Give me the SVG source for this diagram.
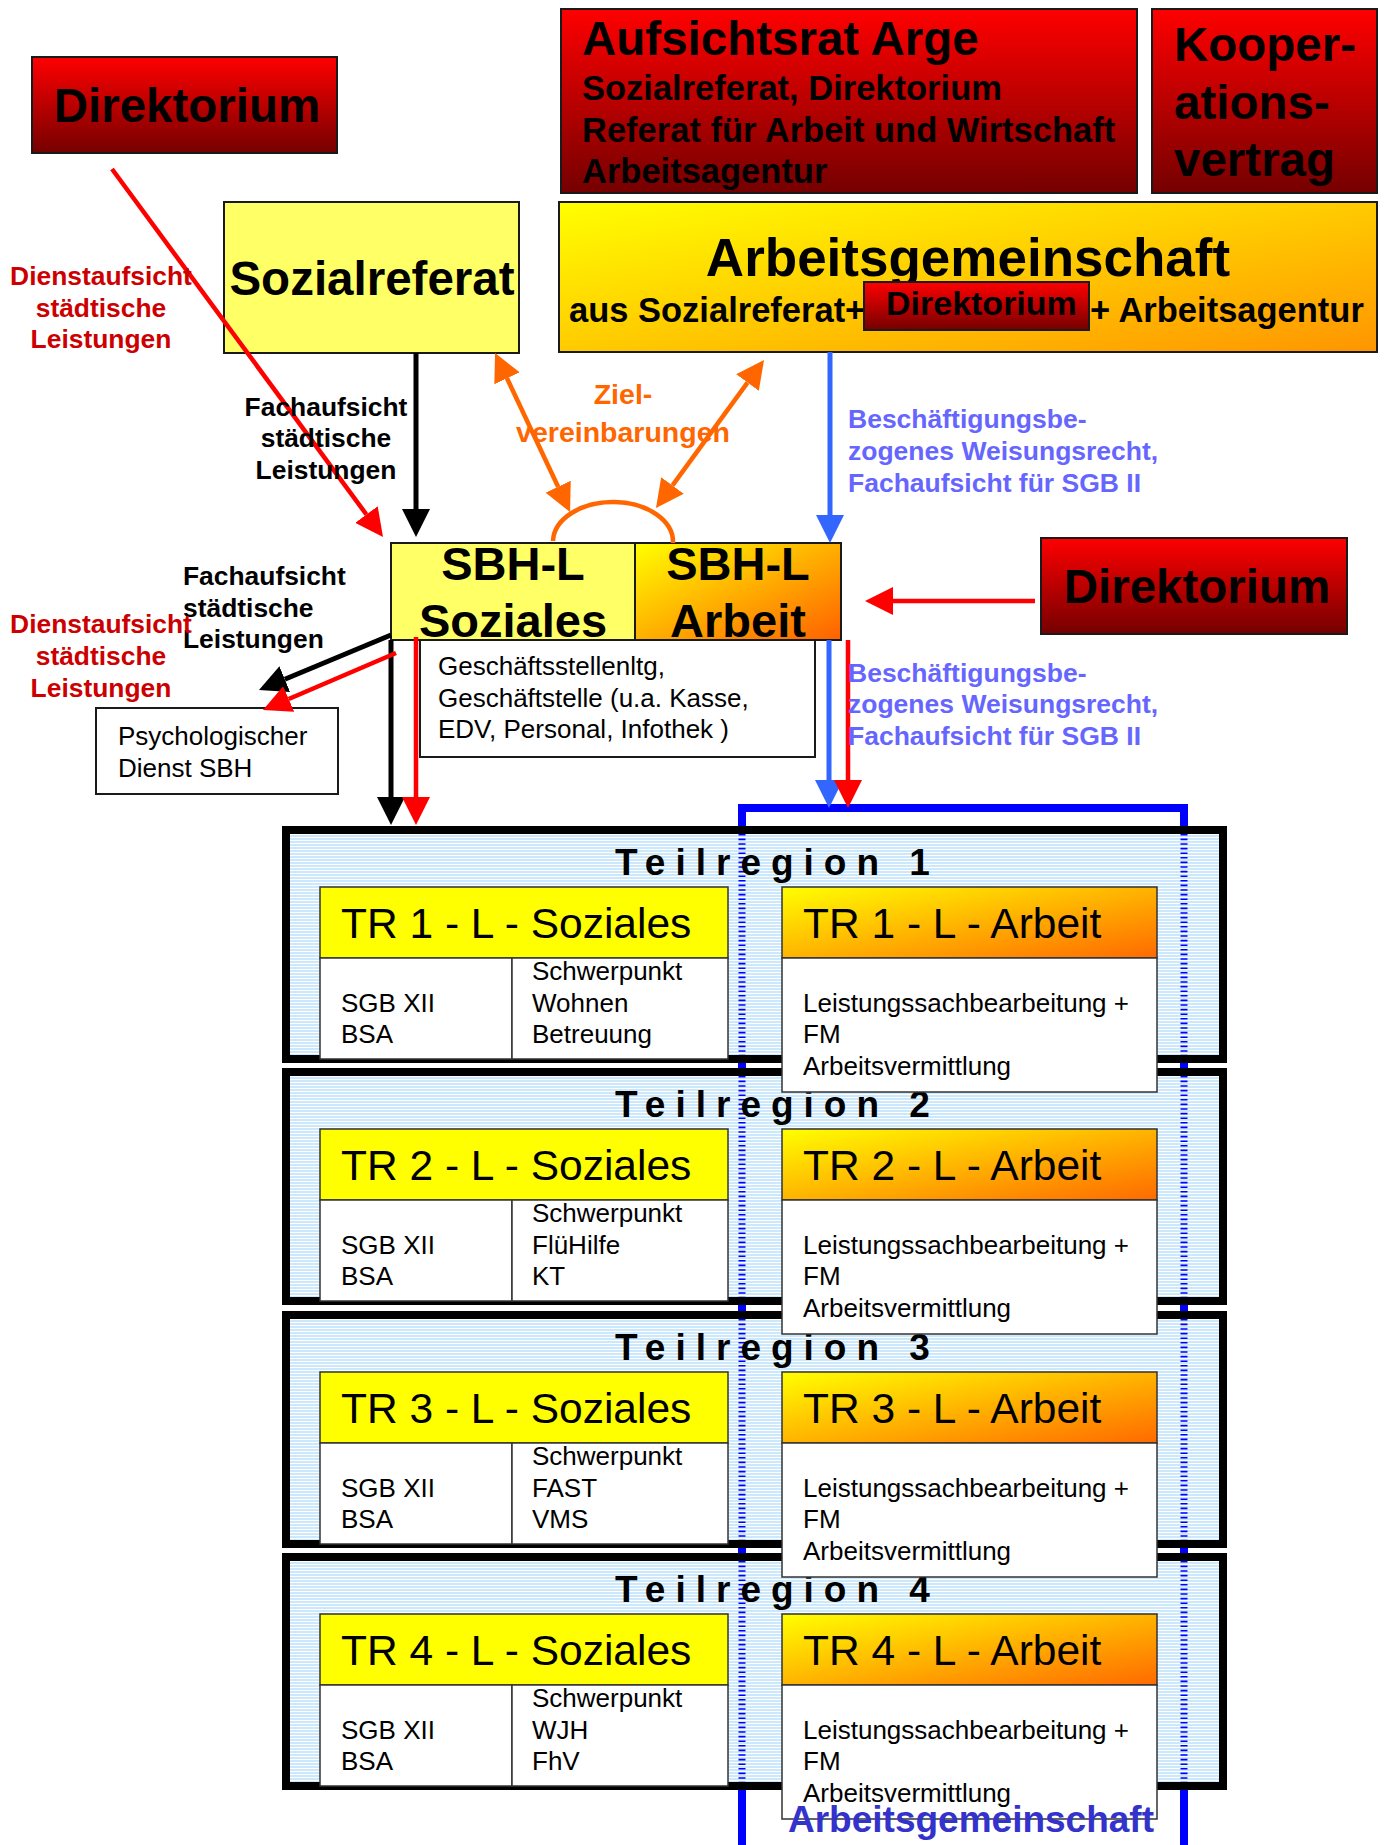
<svg xmlns="http://www.w3.org/2000/svg" width="1385" height="1845" viewBox="0 0 1385 1845">
<style>
.b{font-family:'Liberation Sans',Arial,sans-serif;font-weight:bold}
.r{font-family:'Liberation Sans',Arial,sans-serif}
.bx{stroke:#1a1a1a;stroke-width:2}
.thin{stroke:#333;stroke-width:1.5}
.tr{fill:url(#stripes);stroke:#000;stroke-width:8}
.dash{stroke:#0000ff;stroke-width:7;stroke-dasharray:1.6 3}
.trh{font-size:42.5px}
.trt{font-size:26px}
.ttl{font-size:37px;letter-spacing:10px}
.lbl{font-size:26.4px}
.blu{font-size:26.5px;fill:#6666ff}
</style>
<defs>
<linearGradient id="red" x1="0" y1="0" x2="0" y2="1"><stop offset="0" stop-color="#ff0000"/><stop offset="1" stop-color="#750000"/></linearGradient>
<linearGradient id="arge" x1="0" y1="0" x2="1" y2="1"><stop offset="0" stop-color="#ffff00"/><stop offset="0.45" stop-color="#ffd000"/><stop offset="1" stop-color="#ff9500"/></linearGradient>
<linearGradient id="sbhArb" x1="0" y1="0" x2="1" y2="1"><stop offset="0" stop-color="#ffff00"/><stop offset="0.5" stop-color="#ffb000"/><stop offset="1" stop-color="#ff6000"/></linearGradient>
<linearGradient id="trArb" x1="0" y1="0" x2="1" y2="1"><stop offset="0" stop-color="#ffff00"/><stop offset="0.5" stop-color="#ffb400"/><stop offset="1" stop-color="#ff6a00"/></linearGradient>
<pattern id="stripes" patternUnits="userSpaceOnUse" width="10" height="3"><rect width="10" height="3" fill="#cbe8fc"/><rect width="10" height="1" fill="#ffffff"/></pattern>
<marker id="mBlack" markerUnits="userSpaceOnUse" markerWidth="28" markerHeight="28" viewBox="0 0 28 28" refX="0" refY="14" orient="auto-start-reverse"><path d="M0,0 L28,14 L0,28 z" fill="#000"/></marker>
<marker id="mRed" markerUnits="userSpaceOnUse" markerWidth="28" markerHeight="28" viewBox="0 0 28 28" refX="0" refY="14" orient="auto-start-reverse"><path d="M0,0 L28,14 L0,28 z" fill="#ff0000"/></marker>
<marker id="mBlue" markerUnits="userSpaceOnUse" markerWidth="28" markerHeight="28" viewBox="0 0 28 28" refX="0" refY="14" orient="auto-start-reverse"><path d="M0,0 L28,14 L0,28 z" fill="#3366ff"/></marker>
<marker id="mOrange" markerUnits="userSpaceOnUse" markerWidth="28" markerHeight="28" viewBox="0 0 28 28" refX="0" refY="14" orient="auto-start-reverse"><path d="M0,0 L28,14 L0,28 z" fill="#ff6600"/></marker>
</defs>
<rect width="1385" height="1845" fill="#ffffff"/>

<!-- Top nodes -->
<g id="direktorium-top">
<rect x="32" y="57" width="305" height="96" fill="url(#red)" class="bx"/>
<text x="187" y="122" class="b" font-size="47.5" text-anchor="middle">Direktorium</text>
</g>
<g id="aufsichtsrat">
<rect x="561" y="9" width="576" height="184" fill="url(#red)" class="bx"/>
<text x="582" y="55" class="b" font-size="47.5">Aufsichtsrat Arge</text>
<text x="582" y="100" class="b" font-size="34.5">Sozialreferat, Direktorium</text>
<text x="582" y="142" class="b" font-size="34.5">Referat für Arbeit und Wirtschaft</text>
<text x="582" y="183" class="b" font-size="34.5">Arbeitsagentur</text>
</g>
<g id="kooperationsvertrag">
<rect x="1152" y="9" width="225" height="184" fill="url(#red)" class="bx"/>
<text x="1174" y="61" class="b" font-size="47.5">Kooper-</text>
<text x="1174" y="119" class="b" font-size="47.5">ations-</text>
<text x="1174" y="176" class="b" font-size="47.5">vertrag</text>
</g>
<g id="sozialreferat">
<rect x="224" y="202" width="295" height="151" fill="#ffff66" class="bx"/>
<text x="372" y="295" class="b" font-size="47.5" text-anchor="middle">Sozialreferat</text>
</g>
<g id="arbeitsgemeinschaft">
<rect x="559" y="202" width="818" height="150" fill="url(#arge)" class="bx"/>
<text x="968" y="276" class="b" font-size="53" text-anchor="middle">Arbeitsgemeinschaft</text>
<text x="569" y="322" class="b" font-size="34.5">aus Sozialreferat+</text>
<rect x="864" y="282" width="225" height="48" fill="url(#red)" class="bx"/>
<text x="886" y="315" class="b" font-size="34">Direktorium</text>
<text x="1090" y="322" class="b" font-size="34.5">+ Arbeitsagentur</text>
</g>

<!-- Middle nodes -->
<g id="sbh-l-soziales">
<rect x="391" y="543" width="244" height="97" fill="#ffff66" class="bx"/>
<text x="513" y="580" class="b" font-size="47" text-anchor="middle">SBH-L</text>
<text x="513" y="637" class="b" font-size="47" text-anchor="middle">Soziales</text>
</g>
<g id="sbh-l-arbeit">
<rect x="635" y="543" width="206" height="97" fill="url(#sbhArb)" class="bx"/>
<text x="738" y="580" class="b" font-size="47" text-anchor="middle">SBH-L</text>
<text x="738" y="637" class="b" font-size="47" text-anchor="middle">Arbeit</text>
</g>
<g id="geschaeftsstelle">
<rect x="420" y="640" width="395" height="117" fill="#ffffff" class="bx"/>
<text x="438" y="675" class="r" font-size="26">Geschäftsstellenltg,</text>
<text x="438" y="707" class="r" font-size="26">Geschäftstelle (u.a. Kasse,</text>
<text x="438" y="738" class="r" font-size="26">EDV, Personal, Infothek )</text>
</g>
<g id="psychologischer-dienst">
<rect x="96" y="708" width="242" height="86" fill="#ffffff" class="bx"/>
<text x="118" y="745" class="r" font-size="26">Psychologischer</text>
<text x="118" y="777" class="r" font-size="26">Dienst SBH</text>
</g>
<g id="direktorium-right">
<rect x="1041" y="538" width="306" height="96" fill="url(#red)" class="bx"/>
<text x="1197" y="603" class="b" font-size="47.5" text-anchor="middle">Direktorium</text>
</g>

<!-- Arbeitsgemeinschaft frame (blue) -->
<g id="arge-frame">
<path d="M742,1845 V808 H1184 V1845" fill="none" stroke="#0000ff" stroke-width="8"/>
</g>

<!-- Teilregion frames -->
<g id="teilregion-1">
<rect x="286" y="830" width="937" height="229" class="tr"/>
<line x1="742" y1="834" x2="742" y2="1055" class="dash"/><line x1="1184" y1="834" x2="1184" y2="1055" class="dash"/>
<text x="615" y="875" class="b ttl">Teilregion 1</text>
</g>
<g id="teilregion-2" transform="translate(0,242)">
<rect x="286" y="830" width="937" height="229" class="tr"/>
<line x1="742" y1="834" x2="742" y2="1055" class="dash"/><line x1="1184" y1="834" x2="1184" y2="1055" class="dash"/>
<text x="615" y="875" class="b ttl">Teilregion 2</text>
</g>
<g id="teilregion-3" transform="translate(0,485)">
<rect x="286" y="830" width="937" height="229" class="tr"/>
<line x1="742" y1="834" x2="742" y2="1055" class="dash"/><line x1="1184" y1="834" x2="1184" y2="1055" class="dash"/>
<text x="615" y="875" class="b ttl">Teilregion 3</text>
</g>
<g id="teilregion-4" transform="translate(0,727)">
<rect x="286" y="830" width="937" height="229" class="tr"/>
<line x1="742" y1="834" x2="742" y2="1055" class="dash"/><line x1="1184" y1="834" x2="1184" y2="1055" class="dash"/>
<text x="615" y="875" class="b ttl">Teilregion 4</text>
</g>

<!-- TR inner nodes -->
<g id="tr1-soziales">
<rect x="320" y="887" width="408" height="71" fill="#ffff00" class="thin"/>
<rect x="320" y="958" width="192" height="101" fill="#ffffff" class="thin"/>
<rect x="512" y="958" width="216" height="101" fill="#ffffff" class="thin"/>
<text x="341" y="938" class="r trh">TR 1 - L - Soziales</text>
<text x="341" y="1012" class="r trt">SGB XII</text><text x="341" y="1043" class="r trt">BSA</text>
<text x="532" y="980" class="r trt">Schwerpunkt</text><text x="532" y="1012" class="r trt">Wohnen</text><text x="532" y="1043" class="r trt">Betreuung</text>
</g>
<g id="tr1-arbeit">
<rect x="782" y="887" width="375" height="71" fill="url(#trArb)" class="thin"/>
<rect x="782" y="958" width="375" height="134" fill="#ffffff" class="thin"/>
<text x="803" y="938" class="r trh">TR 1 - L - Arbeit</text>
<text x="803" y="1012" class="r trt">Leistungssachbearbeitung +</text><text x="803" y="1043" class="r trt">FM</text><text x="803" y="1075" class="r trt">Arbeitsvermittlung</text>
</g>
<g id="tr2-soziales" transform="translate(0,242)">
<rect x="320" y="887" width="408" height="71" fill="#ffff00" class="thin"/>
<rect x="320" y="958" width="192" height="101" fill="#ffffff" class="thin"/>
<rect x="512" y="958" width="216" height="101" fill="#ffffff" class="thin"/>
<text x="341" y="938" class="r trh">TR 2 - L - Soziales</text>
<text x="341" y="1012" class="r trt">SGB XII</text><text x="341" y="1043" class="r trt">BSA</text>
<text x="532" y="980" class="r trt">Schwerpunkt</text><text x="532" y="1012" class="r trt">FlüHilfe</text><text x="532" y="1043" class="r trt">KT</text>
</g>
<g id="tr2-arbeit" transform="translate(0,242)">
<rect x="782" y="887" width="375" height="71" fill="url(#trArb)" class="thin"/>
<rect x="782" y="958" width="375" height="134" fill="#ffffff" class="thin"/>
<text x="803" y="938" class="r trh">TR 2 - L - Arbeit</text>
<text x="803" y="1012" class="r trt">Leistungssachbearbeitung +</text><text x="803" y="1043" class="r trt">FM</text><text x="803" y="1075" class="r trt">Arbeitsvermittlung</text>
</g>
<g id="tr3-soziales" transform="translate(0,485)">
<rect x="320" y="887" width="408" height="71" fill="#ffff00" class="thin"/>
<rect x="320" y="958" width="192" height="101" fill="#ffffff" class="thin"/>
<rect x="512" y="958" width="216" height="101" fill="#ffffff" class="thin"/>
<text x="341" y="938" class="r trh">TR 3 - L - Soziales</text>
<text x="341" y="1012" class="r trt">SGB XII</text><text x="341" y="1043" class="r trt">BSA</text>
<text x="532" y="980" class="r trt">Schwerpunkt</text><text x="532" y="1012" class="r trt">FAST</text><text x="532" y="1043" class="r trt">VMS</text>
</g>
<g id="tr3-arbeit" transform="translate(0,485)">
<rect x="782" y="887" width="375" height="71" fill="url(#trArb)" class="thin"/>
<rect x="782" y="958" width="375" height="134" fill="#ffffff" class="thin"/>
<text x="803" y="938" class="r trh">TR 3 - L - Arbeit</text>
<text x="803" y="1012" class="r trt">Leistungssachbearbeitung +</text><text x="803" y="1043" class="r trt">FM</text><text x="803" y="1075" class="r trt">Arbeitsvermittlung</text>
</g>
<g id="tr4-soziales" transform="translate(0,727)">
<rect x="320" y="887" width="408" height="71" fill="#ffff00" class="thin"/>
<rect x="320" y="958" width="192" height="101" fill="#ffffff" class="thin"/>
<rect x="512" y="958" width="216" height="101" fill="#ffffff" class="thin"/>
<text x="341" y="938" class="r trh">TR 4 - L - Soziales</text>
<text x="341" y="1012" class="r trt">SGB XII</text><text x="341" y="1043" class="r trt">BSA</text>
<text x="532" y="980" class="r trt">Schwerpunkt</text><text x="532" y="1012" class="r trt">WJH</text><text x="532" y="1043" class="r trt">FhV</text>
</g>
<g id="tr4-arbeit" transform="translate(0,727)">
<rect x="782" y="887" width="375" height="71" fill="url(#trArb)" class="thin"/>
<rect x="782" y="958" width="375" height="134" fill="#ffffff" class="thin"/>
<text x="803" y="938" class="r trh">TR 4 - L - Arbeit</text>
<text x="803" y="1012" class="r trt">Leistungssachbearbeitung +</text><text x="803" y="1043" class="r trt">FM</text><text x="803" y="1075" class="r trt">Arbeitsvermittlung</text>
</g>
<g id="arge-label">
<text x="971" y="1832" class="b" font-size="37" fill="#3333cc" text-anchor="middle">Arbeitsgemeinschaft</text>
</g>

<!-- Connectors -->
<g id="connectors" fill="none">
<line x1="112" y1="169" x2="366.4" y2="514.5" stroke="#ff0000" stroke-width="4.5" marker-end="url(#mRed)"/>
<line x1="416" y1="353" x2="416" y2="509" stroke="#000" stroke-width="5" marker-end="url(#mBlack)"/>
<line x1="830" y1="352" x2="830" y2="515" stroke="#3366ff" stroke-width="5" marker-end="url(#mBlue)"/>
<line x1="507" y1="378.3" x2="558.1" y2="486.7" stroke="#ff6600" stroke-width="4.5" marker-start="url(#mOrange)" marker-end="url(#mOrange)"/>
<line x1="747.5" y1="382.6" x2="672.5" y2="485.4" stroke="#ff6600" stroke-width="4.5" marker-start="url(#mOrange)" marker-end="url(#mOrange)"/>
<path d="M553,541 A60,40 0 0 1 673,543" stroke="#ff6600" stroke-width="4.5"/>
<line x1="391" y1="640" x2="391" y2="797" stroke="#000" stroke-width="5" marker-end="url(#mBlack)"/>
<line x1="416" y1="637" x2="416" y2="797" stroke="#ff0000" stroke-width="4.5" marker-end="url(#mRed)"/>
<line x1="391" y1="635" x2="284.8" y2="679.2" stroke="#000" stroke-width="5" marker-end="url(#mBlack)"/>
<line x1="396" y1="653" x2="288.7" y2="699" stroke="#ff0000" stroke-width="4.5" marker-end="url(#mRed)"/>
<line x1="1035" y1="601" x2="893" y2="601" stroke="#ff0000" stroke-width="4.5" marker-end="url(#mRed)"/>
<line x1="829" y1="640" x2="829" y2="780" stroke="#3366ff" stroke-width="5" marker-end="url(#mBlue)"/>
<line x1="848" y1="640" x2="848" y2="780" stroke="#ff0000" stroke-width="4.5" marker-end="url(#mRed)"/>
</g>

<!-- Connector labels -->
<g id="labels">
<text class="b lbl" fill="#cc0000" text-anchor="middle"><tspan x="101" y="285">Dienstaufsicht</tspan><tspan x="101" y="317">städtische</tspan><tspan x="101" y="348">Leistungen</tspan></text>
<text class="b lbl" fill="#000" text-anchor="middle"><tspan x="326" y="416">Fachaufsicht</tspan><tspan x="326" y="447">städtische</tspan><tspan x="326" y="479">Leistungen</tspan></text>
<text class="b" font-size="28.5" fill="#ff6600" text-anchor="middle"><tspan x="623" y="404">Ziel-</tspan><tspan x="623" y="442">vereinbarungen</tspan></text>
<text class="b blu"><tspan x="848" y="428">Beschäftigungsbe-</tspan><tspan x="848" y="460">zogenes Weisungsrecht,</tspan><tspan x="848" y="492">Fachaufsicht für SGB II</tspan></text>
<text class="b lbl" fill="#000"><tspan x="183" y="585">Fachaufsicht</tspan><tspan x="183" y="617">städtische</tspan><tspan x="183" y="648">Leistungen</tspan></text>
<text class="b lbl" fill="#cc0000" text-anchor="middle"><tspan x="101" y="633">Dienstaufsicht</tspan><tspan x="101" y="665">städtische</tspan><tspan x="101" y="697">Leistungen</tspan></text>
<text class="b blu"><tspan x="848" y="682">Beschäftigungsbe-</tspan><tspan x="848" y="713">zogenes Weisungsrecht,</tspan><tspan x="848" y="745">Fachaufsicht für SGB II</tspan></text>
</g>
</svg>
